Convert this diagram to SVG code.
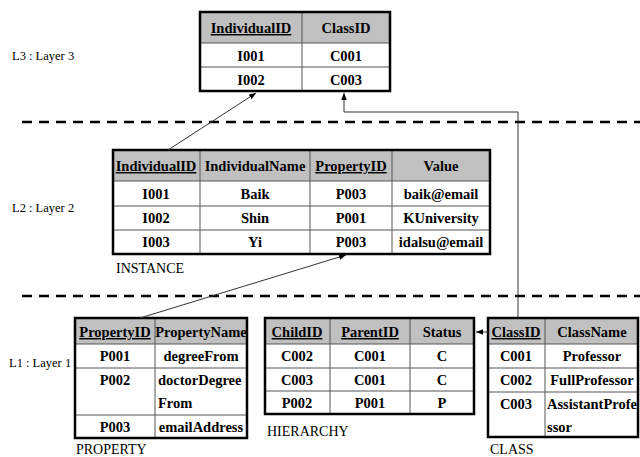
<svg xmlns="http://www.w3.org/2000/svg" width="640" height="457" viewBox="0 0 640 457">
<defs>
<style>
.hd{fill:#c0c0c0}
.bg{fill:#fff}
.ob{fill:none;stroke:#000;stroke-width:2.5}
.il{stroke:#555;stroke-width:1}
.t{font-family:"Liberation Serif",serif;font-weight:bold;font-size:14.5px;fill:#000;text-anchor:middle}
.tl{font-family:"Liberation Serif",serif;font-weight:bold;font-size:14.5px;fill:#000}
.u{text-decoration:underline}
.lb{font-family:"Liberation Serif",serif;font-size:12.5px;fill:#000}
.tn{font-family:"Liberation Serif",serif;font-size:14px;fill:#000}
.dash{stroke:#000;stroke-width:2.5;stroke-dasharray:10 7}
.cn{fill:none;stroke:#333;stroke-width:1}
</style>
<marker id="ah" viewBox="0 0 10 10" refX="10" refY="5" markerWidth="7" markerHeight="7" orient="auto" markerUnits="userSpaceOnUse">
<path d="M0,1 L10,5 L0,9 z" fill="#000"/>
</marker>
</defs>
<rect width="640" height="457" fill="#fff"/>

<text class="lb" x="12" y="60">L3 : Layer 3</text>
<text class="lb" x="12" y="212">L2 : Layer 2</text>
<text class="lb" x="9" y="367">L1 : Layer 1</text>

<line class="dash" x1="22" y1="122" x2="640" y2="122"/>
<line class="dash" x1="22" y1="296" x2="640" y2="296"/>

<g id="l3">
<rect class="hd" x="200" y="12" width="190" height="31"/>
<rect class="bg" x="200" y="43" width="190" height="48"/>
<line class="il" x1="200" y1="43" x2="390" y2="43"/>
<line class="il" x1="200" y1="67" x2="390" y2="67"/>
<line class="il" x1="302" y1="12" x2="302" y2="91"/>
<rect class="ob" x="200" y="12" width="190" height="79"/>
<text class="t u" x="251" y="33">IndividualID</text>
<text class="t" x="346" y="33">ClassID</text>
<text class="t" x="251" y="61">I001</text>
<text class="t" x="346" y="61">C001</text>
<text class="t" x="251" y="85">I002</text>
<text class="t" x="346" y="85">C003</text>
</g>

<g id="instance">
<rect class="hd" x="113" y="150" width="377" height="31"/>
<rect class="bg" x="113" y="181" width="377" height="73"/>
<line class="il" x1="113" y1="181" x2="490" y2="181"/>
<line class="il" x1="113" y1="206" x2="490" y2="206"/>
<line class="il" x1="113" y1="230" x2="490" y2="230"/>
<line class="il" x1="200" y1="150" x2="200" y2="254"/>
<line class="il" x1="310" y1="150" x2="310" y2="254"/>
<line class="il" x1="392" y1="150" x2="392" y2="254"/>
<rect class="ob" x="113" y="150" width="377" height="104"/>
<text class="t u" x="156" y="171">IndividualID</text>
<text class="t" x="255" y="171">IndividualName</text>
<text class="t u" x="351" y="171">PropertyID</text>
<text class="t" x="441" y="171">Value</text>
<text class="t" x="156" y="199">I001</text>
<text class="t" x="255" y="199">Baik</text>
<text class="t" x="351" y="199">P003</text>
<text class="t" x="441" y="199">baik@email</text>
<text class="t" x="156" y="223">I002</text>
<text class="t" x="255" y="223">Shin</text>
<text class="t" x="351" y="223">P001</text>
<text class="t" x="441" y="223">KUniversity</text>
<text class="t" x="156" y="247">I003</text>
<text class="t" x="255" y="247">Yi</text>
<text class="t" x="351" y="247">P003</text>
<text class="t" x="441" y="247">idalsu@email</text>
<text class="tn" x="116" y="273">INSTANCE</text>
</g>

<g id="property">
<rect class="hd" x="75" y="318" width="172" height="26"/>
<rect class="bg" x="75" y="344" width="172" height="94"/>
<line class="il" x1="75" y1="344" x2="247" y2="344"/>
<line class="il" x1="75" y1="368" x2="247" y2="368"/>
<line class="il" x1="75" y1="415" x2="247" y2="415"/>
<line class="il" x1="155" y1="318" x2="155" y2="438"/>
<rect class="ob" x="75" y="318" width="172" height="120"/>
<text class="t u" x="115" y="337">PropertyID</text>
<text class="t" x="201" y="337">PropertyName</text>
<text class="t" x="115" y="361">P001</text>
<text class="t" x="201" y="361">degreeFrom</text>
<text class="t" x="115" y="385">P002</text>
<text class="tl" x="158" y="385">doctorDegree</text>
<text class="tl" x="158" y="408">From</text>
<text class="t" x="115" y="432">P003</text>
<text class="t" x="201" y="432">emailAddress</text>
<text class="tn" x="76" y="454">PROPERTY</text>
</g>

<g id="hierarchy">
<rect class="hd" x="265" y="318" width="209" height="26"/>
<rect class="bg" x="265" y="344" width="209" height="70"/>
<line class="il" x1="265" y1="344" x2="474" y2="344"/>
<line class="il" x1="265" y1="368" x2="474" y2="368"/>
<line class="il" x1="265" y1="391" x2="474" y2="391"/>
<line class="il" x1="330" y1="318" x2="330" y2="414"/>
<line class="il" x1="410" y1="318" x2="410" y2="414"/>
<rect class="ob" x="265" y="318" width="209" height="96"/>
<text class="t u" x="297" y="337">ChildID</text>
<text class="t u" x="370" y="337">ParentID</text>
<text class="t" x="442" y="337">Status</text>
<text class="t" x="297" y="361">C002</text>
<text class="t" x="370" y="361">C001</text>
<text class="t" x="442" y="361">C</text>
<text class="t" x="297" y="385">C003</text>
<text class="t" x="370" y="385">C001</text>
<text class="t" x="442" y="385">C</text>
<text class="t" x="297" y="408">P002</text>
<text class="t" x="370" y="408">P001</text>
<text class="t" x="442" y="408">P</text>
<text class="tn" x="267" y="436">HIERARCHY</text>
</g>

<g id="class">
<rect class="hd" x="488" y="318" width="150" height="26"/>
<rect class="bg" x="488" y="344" width="150" height="93"/>
<line class="il" x1="488" y1="344" x2="638" y2="344"/>
<line class="il" x1="488" y1="368" x2="638" y2="368"/>
<line class="il" x1="488" y1="392" x2="638" y2="392"/>
<line class="il" x1="545" y1="318" x2="545" y2="437"/>
<rect class="ob" x="488" y="318" width="150" height="119"/>
<text class="t u" x="516" y="337">ClassID</text>
<text class="t" x="592" y="337">ClassName</text>
<text class="t" x="516" y="361">C001</text>
<text class="t" x="592" y="361">Professor</text>
<text class="t" x="516" y="385">C002</text>
<text class="t" x="592" y="385">FullProfessor</text>
<text class="t" x="516" y="409">C003</text>
<text class="tl" x="547" y="409">AssistantProfe</text>
<text class="tl" x="547" y="432">ssor</text>
<text class="tn" x="490" y="454">CLASS</text>
</g>

<g id="connectors">
<line class="cn" x1="168" y1="150" x2="256" y2="93" marker-end="url(#ah)"/>
<line class="cn" x1="140" y1="318" x2="346" y2="255" marker-end="url(#ah)"/>
<polyline class="cn" points="518,318 518,112 344,112 344,93" marker-end="url(#ah)"/>
<line class="cn" x1="488" y1="332" x2="476" y2="332" marker-end="url(#ah)"/>
</g>
</svg>
